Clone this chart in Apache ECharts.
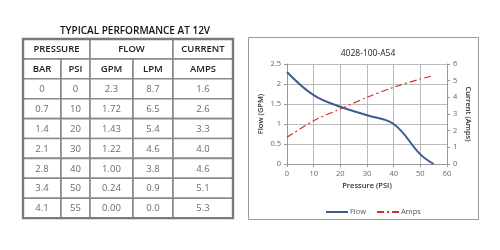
<!DOCTYPE html>
<html>
<head>
<meta charset="utf-8">
<script src="https://cdn.jsdelivr.net/npm/echarts@6/dist/echarts.min.js"></script>
<style>
  html, body { margin: 0; padding: 0; background: #fff; }
  #main { width: 500px; height: 250px; }
</style>
</head>
<body>
<div id="main"></div>
<script>
// table + chart data
let bar = ['0', '0.7', '1.4', '2.1', '2.8', '3.4', '4.1']
let psi = [0, 10, 20, 30, 40, 50, 55]
let gpm = ['2.3', '1.72', '1.43', '1.22', '1.00', '0.24', '0.00']
let lpm = ['8.7', '6.5', '5.4', '4.6', '3.8', '0.9', '0.0']
let amps = ['1.6', '2.6', '3.3', '4.0', '4.6', '5.1', '5.3']
let groupHeads = ['PRESSURE', 'FLOW', 'CURRENT']
let colHeads = ['BAR', 'PSI', 'GPM', 'LPM', 'AMPS']

const FONT = '"Open Sans", "Liberation Sans", sans-serif'
const colX = [23, 61, 90, 133, 173, 233]
const rowTop = 39
const rowH = 19.9
const border = '#8a8a8a'

function cell(x0, x1, row, txt, head) {
  let y = rowTop + row * rowH
  return [{
    type: 'rect',
    shape: { x: x0, y: y, width: x1 - x0, height: rowH },
    style: { fill: '#fff', stroke: border, lineWidth: 1.6 }
  }, {
    type: 'text',
    x: (x0 + x1) / 2,
    y: y + rowH / 2 + 0.5,
    style: {
      text: txt,
      align: 'center',
      verticalAlign: 'middle',
      font: (head ? '600 ' : '') + '9.5px ' + FONT,
      fill: head ? '#222' : '#6a6a6a'
    }
  }]
}

function buildTable() {
  let els = []
  // top header (merged)
  els = els.concat(cell(colX[0], colX[2], 0, groupHeads[0], true))
  els = els.concat(cell(colX[2], colX[4], 0, groupHeads[1], true))
  els = els.concat(cell(colX[4], colX[5], 0, groupHeads[2], true))
  for (let c = 0; c < 5; c++) {
    els = els.concat(cell(colX[c], colX[c + 1], 1, colHeads[c], true))
  }
  let cols = [bar, psi.map(String), gpm, lpm, amps]
  for (let r = 0; r < bar.length; r++) {
    for (let c = 0; c < 5; c++) {
      els = els.concat(cell(colX[c], colX[c + 1], r + 2, cols[c][r], false))
    }
  }
  // outer frame
  els.push({
    type: 'rect',
    shape: { x: colX[0], y: rowTop, width: colX[5] - colX[0], height: rowH * 9 },
    style: { fill: 'none', stroke: '#7a7a7a', lineWidth: 2.4 }
  })
  els.push({
    type: 'text',
    x: 135,
    y: 31,
    style: {
      text: 'TYPICAL PERFORMANCE AT 12V',
      align: 'center',
      verticalAlign: 'middle',
      font: '600 10px ' + FONT,
      fill: '#111'
    }
  })
  return els
}

let chart = echarts.init(document.getElementById('main'), null, { renderer: 'canvas' })

let option = {
  animation: false,
  graphic: [{
    type: 'rect',
    z: -10,
    shape: { x: 248.5, y: 37.5, width: 230, height: 182 },
    style: { fill: '#fff', stroke: '#9a9a9a', lineWidth: 1 }
  }].concat(buildTable()),
  title: {
    text: '4028-100-A54',
    left: 363,
    textAlign: 'center',
    top: 44,
    textStyle: { fontFamily: FONT, fontSize: 8.5, fontWeight: 'normal', color: '#222' }
  },
  legend: {
    top: 203,
    left: 320,
    orient: 'horizontal',
    itemWidth: 22,
    itemHeight: 6,
    itemGap: 10,
    itemStyle: { opacity: 0 },
    textStyle: { fontFamily: FONT, fontSize: 7.5, color: '#555', padding: [0, 0, 0, -3] },
    data: ['Flow', 'Amps']
  },
  grid: { left: 287, right: 53, top: 64, bottom: 86 },
  xAxis: {
    type: 'value',
    min: 0, max: 60, interval: 10,
    name: 'Pressure (PSI)',
    nameLocation: 'middle',
    nameGap: 18,
    nameTextStyle: { fontFamily: FONT, fontSize: 7.5, fontWeight: 600, color: '#333' },
    axisLine: { lineStyle: { color: '#999' } },
    axisTick: { show: true, inside: false, length: 3, lineStyle: { color: '#999' } },
    axisLabel: { fontFamily: FONT, fontSize: 7.5, color: '#666', margin: 6 },
    splitLine: { show: true, lineStyle: { color: '#bbb' } }
  },
  yAxis: [{
    type: 'value',
    min: 0, max: 2.5, interval: 0.5,
    name: 'Flow (GPM)',
    nameLocation: 'middle',
    nameGap: 22,
    nameTextStyle: { fontFamily: FONT, fontSize: 7.5, fontWeight: 600, color: '#333' },
    axisLine: { show: true, lineStyle: { color: '#999' } },
    axisTick: { show: true, length: 3, lineStyle: { color: '#999' } },
    axisLabel: { fontFamily: FONT, fontSize: 7.5, color: '#666', margin: 6 },
    splitLine: { show: true, lineStyle: { color: '#bbb' } }
  }, {
    type: 'value',
    min: 0, max: 6, interval: 1,
    position: 'right',
    name: 'Current (Amps)',
    nameLocation: 'middle',
    nameGap: 17,
    nameRotate: -90,
    nameTextStyle: { fontFamily: FONT, fontSize: 7.5, fontWeight: 600, color: '#333' },
    axisLine: { show: true, lineStyle: { color: '#999' } },
    axisTick: { show: true, length: 3, lineStyle: { color: '#999' } },
    axisLabel: { fontFamily: FONT, fontSize: 7.5, color: '#666', margin: 6 },
    splitLine: { show: false }
  }],
  series: [{
    name: 'Flow',
    type: 'line',
    yAxisIndex: 0,
    smooth: 0.4,
    symbol: 'none',
    color: '#3e5d8f',
    lineStyle: { width: 2, color: '#3e5d8f' },
    data: psi.map((p, i) => [p, Number(gpm[i])])
  }, {
    name: 'Amps',
    type: 'line',
    yAxisIndex: 1,
    smooth: 0.3,
    symbol: 'none',
    color: '#c8322e',
    lineStyle: { width: 1.2, color: '#c8322e', type: [7, 3, 2, 3] },
    data: psi.map((p, i) => [p, Number(amps[i])])
  }]
}

chart.setOption(option)
</script>
</body>
</html>
